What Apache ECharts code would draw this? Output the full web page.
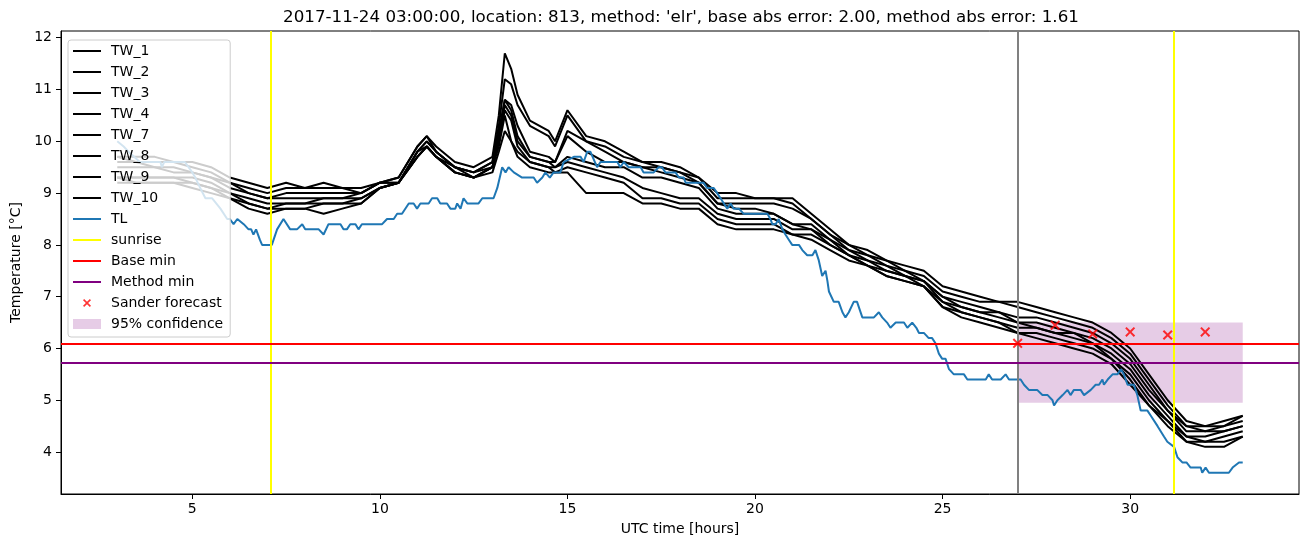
<!DOCTYPE html>
<html><head><meta charset="utf-8">
<script src="https://cdn.jsdelivr.net/npm/echarts@6/dist/echarts.min.js"></script>
<style>html,body{margin:0;padding:0;background:#fff}#chart{width:1311px;height:547px}</style>
</head><body><div id="chart"></div>
<script>
const titleText = "2017-11-24 03:00:00, location: 813, method: 'elr', base abs error: 2.00, method abs error: 1.61";
const xTicks = [5, 10, 15, 20, 25, 30];
const yTicks = [4, 5, 6, 7, 8, 9, 10, 11, 12];

const twHours = [3,3.5,4,4.5,5,5.5,6,6.5,7,7.5,
  8,8.5,9,9.5,10,10.5,11,11.25,11.5,12,
  12.5,13,13.17,13.33,13.5,13.67,14,14.5,14.67,15,
  15.5,16,16.5,17,17.5,18,18.5,19,19.5,20,
  20.5,21,21.5,22,22.5,23,23.5,24,24.5,25,
  25.5,26,26.5,27,27.5,28,28.5,29,29.5,30,
  30.5,31,31.5,32,32.5,33];
const tw1 = [9.7,9.7,9.7,9.6,9.6,9.5,9.3,9.2,9.1,9.2,
  9.1,9.2,9.1,9.1,9.2,9.3,9.9,10.1,9.9,9.6,
  9.5,9.7,10.5,11.7,11.4,10.9,10.4,10.2,10.0,10.6,
  10.1,10.0,9.8,9.6,9.6,9.5,9.3,9.0,9.0,8.9,
  8.9,8.9,8.6,8.3,8.0,7.9,7.7,7.6,7.5,7.2,
  7.1,7.0,6.9,6.9,6.8,6.7,6.6,6.5,6.3,6.0,
  5.5,5.0,4.6,4.5,4.6,4.7];
const tw2 = [9.7,9.6,9.6,9.6,9.5,9.4,9.2,9.1,9.0,9.1,
  9.1,9.1,9.1,9.0,9.2,9.3,9.9,10.1,9.8,9.5,
  9.4,9.6,10.3,11.2,11.1,10.7,10.3,10.1,9.9,10.5,
  10.0,9.9,9.7,9.6,9.5,9.4,9.3,8.9,8.9,8.9,
  8.9,8.8,8.5,8.2,8.0,7.8,7.7,7.5,7.4,7.1,
  7.0,6.9,6.9,6.8,6.7,6.6,6.5,6.4,6.2,5.9,
  5.4,4.9,4.5,4.5,4.5,4.7];
const tw3 = [9.6,9.6,9.5,9.5,9.4,9.3,9.2,9.0,8.9,9.0,
  9.0,9.0,9.0,9.0,9.2,9.2,9.8,10.0,9.8,9.5,
  9.4,9.6,10.2,10.8,10.7,10.3,9.8,9.7,9.6,10.2,
  10.0,9.8,9.6,9.5,9.5,9.4,9.2,8.8,8.8,8.8,
  8.8,8.7,8.5,8.2,7.9,7.8,7.6,7.5,7.3,7.0,
  6.9,6.8,6.7,6.6,6.6,6.5,6.4,6.3,6.1,5.8,
  5.3,4.8,4.5,4.4,4.5,4.6];
const tw4 = [9.5,9.5,9.5,9.4,9.4,9.3,9.1,9.0,8.9,8.9,
  8.9,8.9,8.9,9.0,9.2,9.2,9.8,10.0,9.8,9.5,
  9.4,9.5,10.1,10.8,10.6,10.1,9.7,9.6,9.6,10.1,
  9.8,9.6,9.6,9.5,9.4,9.3,9.2,8.8,8.7,8.7,
  8.6,8.4,8.4,8.1,7.9,7.7,7.6,7.4,7.3,7.0,
  6.8,6.7,6.7,6.5,6.5,6.4,6.3,6.2,6.0,5.7,
  5.2,4.8,4.4,4.4,4.4,4.5];
const tw7 = [9.3,9.3,9.3,9.3,9.3,9.2,9.0,8.9,8.8,8.8,
  8.8,8.9,8.9,8.9,9.1,9.2,9.8,9.9,9.7,9.5,
  9.3,9.5,10.0,10.7,10.5,10.0,9.7,9.6,9.5,9.7,
  9.6,9.5,9.5,9.3,9.3,9.2,9.1,8.7,8.6,8.6,
  8.6,8.4,8.3,8.1,7.8,7.7,7.5,7.4,7.3,6.9,
  6.8,6.7,6.6,6.5,6.4,6.3,6.3,6.1,5.9,5.6,
  5.1,4.7,4.3,4.3,4.4,4.5];
const tw8 = [9.3,9.3,9.3,9.3,9.2,9.1,9.0,8.8,8.7,8.8,
  8.8,8.8,8.8,8.9,9.1,9.2,9.7,9.9,9.7,9.4,
  9.3,9.5,10.0,10.6,10.4,9.9,9.6,9.5,9.5,9.6,
  9.5,9.4,9.3,9.1,9.0,8.9,8.9,8.6,8.5,8.5,
  8.5,8.3,8.3,8.0,7.8,7.6,7.5,7.4,7.2,6.9,
  6.7,6.6,6.5,6.4,6.4,6.3,6.2,6.1,5.8,5.5,
  5.0,4.6,4.3,4.2,4.3,4.4];
const tw9 = [9.3,9.2,9.2,9.2,9.2,9.1,8.9,8.8,8.7,8.7,
  8.7,8.8,8.8,8.8,9.1,9.2,9.7,9.9,9.7,9.4,
  9.3,9.5,9.9,10.5,10.0,9.8,9.6,9.5,9.4,9.5,
  9.4,9.3,9.2,8.9,8.9,8.8,8.8,8.5,8.4,8.4,
  8.4,8.2,8.2,8.0,7.8,7.6,7.4,7.3,7.2,6.8,
  6.7,6.6,6.5,6.3,6.3,6.2,6.1,6.0,5.8,5.4,
  4.9,4.6,4.2,4.2,4.2,4.3];
const tw10 = [9.2,9.2,9.2,9.2,9.1,9.0,8.9,8.7,8.6,8.7,
  8.7,8.6,8.7,8.8,9.1,9.2,9.7,9.9,9.7,9.4,
  9.3,9.4,9.8,10.2,10.0,9.7,9.5,9.4,9.4,9.4,
  9.0,9.0,9.0,8.8,8.8,8.7,8.7,8.4,8.3,8.3,
  8.3,8.2,8.1,7.9,7.7,7.6,7.4,7.3,7.2,6.8,
  6.6,6.5,6.4,6.3,6.2,6.1,6.0,5.9,5.7,5.3,
  4.9,4.5,4.2,4.1,4.1,4.3];
const twNames = ['TW_1','TW_2','TW_3','TW_4','TW_7','TW_8','TW_9','TW_10'];
const twSeriesValues = [tw1, tw2, tw3, tw4, tw7, tw8, tw9, tw10];

const tlHours = [3.0,3.17,3.3,3.45,3.6,4.15,4.19,4.25,4.8,4.9,
  5.0,5.08,5.21,5.35,5.53,5.75,5.93,6.0,6.1,6.2,
  6.37,6.5,6.57,6.63,6.7,6.8,6.86,7.12,7.26,7.43,
  7.61,7.79,7.93,8.01,8.37,8.5,8.63,8.95,9.03,9.12,
  9.21,9.35,9.43,9.52,10.06,10.19,10.37,10.46,10.59,10.77,
  10.9,10.99,11.08,11.3,11.39,11.53,11.61,11.79,11.88,12.01,
  12.06,12.15,12.23,12.33,12.63,12.73,13.03,13.13,13.26,13.35,
  13.43,13.57,13.79,14.1,14.19,14.33,14.41,14.53,14.63,14.81,
  14.9,15.17,15.35,15.43,15.53,15.61,15.79,15.88,16.33,16.41,
  16.5,16.63,16.95,17.03,17.3,17.43,17.52,17.61,17.88,17.97,
  18.1,18.15,18.63,18.72,18.9,18.99,19.08,19.17,19.26,19.35,
  19.43,19.57,19.7,20.33,20.41,20.46,20.55,20.63,20.73,20.81,
  20.9,20.99,21.17,21.26,21.39,21.53,21.61,21.7,21.79,21.88,
  21.93,21.97,22.1,22.23,22.33,22.41,22.5,22.63,22.72,22.86,
  23.17,23.3,23.39,23.52,23.61,23.75,23.97,24.06,24.19,24.3,
  24.37,24.5,24.63,24.72,24.81,24.9,24.99,25.08,25.17,25.3,
  25.57,25.66,26.15,26.23,26.32,26.55,26.68,26.77,27.08,27.17,
  27.3,27.52,27.66,27.8,27.93,27.97,28.06,28.2,28.33,28.41,
  28.5,28.68,28.77,28.95,29.08,29.17,29.26,29.3,29.4,29.53,
  29.66,29.75,29.83,29.93,30.1,30.19,30.28,30.46,30.55,30.73,
  30.9,30.99,31.17,31.26,31.39,31.5,31.61,31.88,31.92,32.01,
  32.1,32.63,32.73,32.9,33.0];
const tlTemps = [10.0,9.9,9.8,9.7,9.6,9.6,9.5,9.6,9.6,9.5,
  9.4,9.3,9.1,8.9,8.9,8.7,8.5,8.5,8.4,8.5,
  8.4,8.3,8.3,8.2,8.3,8.1,8.0,8.0,8.3,8.5,
  8.3,8.3,8.4,8.3,8.3,8.2,8.4,8.4,8.3,8.3,
  8.4,8.4,8.3,8.4,8.4,8.5,8.5,8.6,8.6,8.8,
  8.8,8.7,8.8,8.8,8.9,8.9,8.8,8.8,8.7,8.7,
  8.8,8.7,8.9,8.8,8.8,8.9,8.9,9.1,9.5,9.4,
  9.5,9.4,9.3,9.3,9.2,9.3,9.4,9.3,9.4,9.4,
  9.6,9.7,9.7,9.6,9.8,9.8,9.5,9.6,9.6,9.5,
  9.6,9.5,9.5,9.4,9.4,9.5,9.5,9.4,9.4,9.3,
  9.3,9.2,9.2,9.1,9.1,9.0,8.9,8.8,8.7,8.8,
  8.7,8.7,8.6,8.6,8.5,8.4,8.4,8.5,8.3,8.2,
  8.1,8.0,8.0,7.9,7.8,7.8,7.9,7.7,7.4,7.5,
  7.3,7.1,6.9,6.9,6.7,6.6,6.7,6.9,6.9,6.6,
  6.6,6.7,6.6,6.5,6.4,6.5,6.5,6.4,6.5,6.4,
  6.3,6.3,6.2,6.2,6.1,5.9,5.8,5.8,5.6,5.5,
  5.5,5.4,5.4,5.5,5.4,5.4,5.5,5.4,5.4,5.3,
  5.2,5.2,5.1,5.1,5.0,4.9,5.0,5.1,5.2,5.1,
  5.2,5.2,5.1,5.2,5.3,5.3,5.4,5.3,5.4,5.5,
  5.5,5.6,5.5,5.3,5.3,5.1,4.8,4.8,4.7,4.5,
  4.3,4.2,4.1,3.9,3.8,3.8,3.7,3.7,3.6,3.7,
  3.6,3.6,3.7,3.8,3.8];

const sunriseHours = [7.1, 31.15];
const issueHour = 27;
const baseMin = 6.1;
const methodMin = 5.72;
const sanderHours = [27, 28, 29, 30, 31, 32];
const sanderTemps = [6.1, 6.45, 6.28, 6.32, 6.26, 6.32];
const confStart = 27, confEnd = 33, confLow = 4.95, confHigh = 6.5;

const FONT = 'DejaVu Sans';
const xShape = 'M10,4.13 L11.13,3 L14,5.87 L16.87,3 L18,4.13 L15.13,7 L18,9.87 L16.87,11 L14,8.13 L11.13,11 L10,9.87 L12.87,7 Z';
const xPath = 'path://' + xShape;
const xLegendPath = 'path://M0,0 M28,14 ' + xShape;
const bandLegendPath = 'path://M0,0 M28,14 M0,2 L28,2 L28,12 L0,12 Z';
const lineLegendPath = 'path://M0,0 M28,14 M0,6 L28,6 L28,8 L0,8 Z';

const series = [];
series.push({
  name: '95% confidence', type: 'custom', z: 1, silent: true,
  itemStyle: {color: 'rgba(128,0,128,0.2)'},
  data: [[confStart, confEnd, confLow, confHigh]],
  renderItem: function (params, api) {
    const p1 = api.coord([api.value(0), api.value(3)]);
    const p2 = api.coord([api.value(1), api.value(2)]);
    return {type: 'rect', shape: {x: p1[0], y: p1[1], width: p2[0] - p1[0], height: p2[1] - p1[1]},
      style: {fill: 'rgba(128,0,128,0.2)'}};
  }
});
twNames.forEach(function (n, k) {
  const vals = twSeriesValues[k];
  series.push({
    name: n, type: 'line', z: 2, silent: true, symbol: 'none',
    lineStyle: {color: '#000000', width: 2}, itemStyle: {color: '#000000'},
    data: twHours.map(function (h, i) { return [h, vals[i]]; })
  });
});
series.push({
  name: 'TL', type: 'line', z: 3, silent: true, symbol: 'none',
  lineStyle: {color: '#1f77b4', width: 2}, itemStyle: {color: '#1f77b4'},
  data: tlHours.map(function (h, i) { return [h, tlTemps[i]]; }),
  markLine: {symbol: ['none', 'none'], silent: true, label: {show: false}, animation: false,
    lineStyle: {color: '#808080', width: 2, type: 'solid'}, emphasis: {disabled: true},
    data: [{xAxis: issueHour}]}
});
function refLine(name, color, key, values) {
  return {
    name: name, type: 'line', z: 4, silent: true, symbol: 'none', data: [],
    lineStyle: {color: color, width: 2}, itemStyle: {color: color},
    markLine: {symbol: ['none', 'none'], silent: true, label: {show: false}, animation: false,
      lineStyle: {color: color, width: 2, type: 'solid'}, emphasis: {disabled: true},
      data: values.map(function (v) { const o = {}; o[key] = v; return o; })}
  };
}
series.push(refLine('sunrise', '#ffff00', 'xAxis', sunriseHours));
series.push(refLine('Base min', '#ff0000', 'yAxis', [baseMin]));
series.push(refLine('Method min', '#800080', 'yAxis', [methodMin]));
series.push({
  name: 'Sander forecast', type: 'scatter', z: 5, silent: true,
  symbol: xPath, symbolSize: [10, 10], itemStyle: {color: '#ff0000'},
  data: sanderHours.map(function (h, i) { return [h, sanderTemps[i]]; })
});

const legendData = twNames.concat(['TL', 'sunrise', 'Base min', 'Method min']).map(function (n) { return {name: n, icon: lineLegendPath}; });
legendData.push({name: 'Sander forecast', icon: xLegendPath});
legendData.push({name: '95% confidence', icon: bandLegendPath});

const chart = echarts.init(document.getElementById('chart'), null, {renderer: 'canvas'});
chart.setOption({
  animation: false,
  backgroundColor: '#ffffff',
  textStyle: {fontFamily: FONT},
  graphic: [{type: 'text', x: 681, y: 18, silent: true,
    style: {text: titleText, fill: '#000', font: '16.7px "DejaVu Sans"', textAlign: 'center', textVerticalAlign: 'middle'}}],
  grid: {left: 61, right: 12, top: 31, bottom: 53, show: true, borderColor: '#000', borderWidth: 1, backgroundColor: 'transparent'},
  legend: {
    orient: 'vertical', left: 68, top: 40, data: legendData,
    itemWidth: 28, itemHeight: 14, itemGap: 7,
    padding: [4, 7, 6, 5],
    backgroundColor: 'rgba(255,255,255,0.8)', borderColor: '#cccccc', borderWidth: 1, borderRadius: 3,
    selectedMode: false,
    textStyle: {fontFamily: FONT, fontSize: 14, color: '#000', lineHeight: 14, padding: [0, 0, 0, 5]}
  },
  xAxis: {
    type: 'value', min: 1.5, max: 34.5,
    name: 'UTC time [hours]', nameLocation: 'middle', nameGap: 28,
    nameTextStyle: {fontFamily: FONT, fontSize: 14, color: '#000'},
    axisLine: {show: true, onZero: false, lineStyle: {color: '#000', width: 1}},
    axisTick: {show: true, customValues: xTicks, length: 5, lineStyle: {color: '#000'}},
    axisLabel: {customValues: xTicks, color: '#000', fontSize: 14, fontFamily: FONT, margin: 8},
    splitLine: {show: false}
  },
  yAxis: {
    type: 'value', min: 3.19, max: 12.13,
    name: 'Temperature [°C]', nameLocation: 'middle', nameGap: 35,
    nameTextStyle: {fontFamily: FONT, fontSize: 14, color: '#000'},
    axisLine: {show: true, onZero: false, lineStyle: {color: '#000', width: 1}},
    axisTick: {show: true, customValues: yTicks, length: 5, lineStyle: {color: '#000'}},
    axisLabel: {customValues: yTicks, color: '#000', fontSize: 14, fontFamily: FONT, margin: 9},
    splitLine: {show: false}
  },
  series: series
});
</script></body></html>
